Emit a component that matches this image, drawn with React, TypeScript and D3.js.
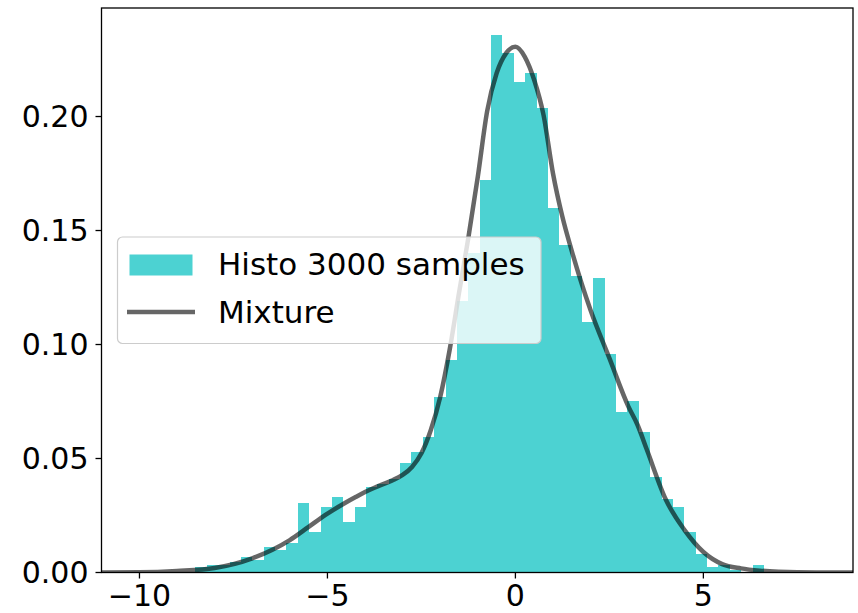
import React from "react";
import * as d3 from "d3";

// Histogram: 50 bins, density values
const binStart = -8.51;
const binWidth = 0.3024;
const densities = [
  0.0022, 0.0033, 0.0033, 0.0044, 0.0066, 0.0055, 0.011, 0.0099, 0.013, 0.0306,
  0.0179, 0.0289, 0.0333, 0.0223, 0.0289, 0.0376, 0.039, 0.041, 0.048, 0.053,
  0.0596, 0.077, 0.093, 0.119, 0.14, 0.172, 0.2357, 0.228, 0.215, 0.219,
  0.2037, 0.16, 0.1436, 0.13, 0.11, 0.129, 0.0958, 0.0705, 0.0754, 0.0618,
  0.042, 0.0322, 0.0289, 0.0178, 0.0081, 0.0024, 0.0033, 0.0011, 0.0, 0.0033,
];

// Mixture density curve
const curveX = [
  -11, -10, -9, -8, -7, -6, -5.5, -5, -4.5, -4.25, -4, -3.75, -3.5, -3.25, -3, -2.75,
  -2.5, -2.25, -2, -1.75, -1.5, -1.25, -1, -0.75, -0.5, -0.25, 0, 0.25, 0.5, 0.75,
  1, 1.25, 1.5, 2, 2.5, 3, 3.25, 3.5, 4, 4.5, 5, 5.5, 6, 6.5, 7, 8, 9,
];
const curveY = [
  0.0, 0.0001, 0.0007, 0.002, 0.0062, 0.0142, 0.02, 0.0258, 0.0308, 0.0331, 0.0353,
  0.0372, 0.0389, 0.0406, 0.0428, 0.0463, 0.0523, 0.0625, 0.077, 0.0976, 0.1226,
  0.147, 0.1736, 0.2025, 0.219, 0.2277, 0.2306, 0.2262, 0.216, 0.2005, 0.175, 0.156,
  0.141, 0.115, 0.094, 0.073, 0.0647, 0.0537, 0.032, 0.0186, 0.009, 0.0037, 0.0018,
  0.0008, 0.0003, 0.0, 0.0,
];

const xTicks = [-10, -5, 0, 5];
const yTicks = [0, 0.05, 0.1, 0.15, 0.2];
const legendLabels = ["Histo 3000 samples", "Mixture"];

const W = 858;
const H = 613;
const left = 101.5;
const right = 853;
const top = 8;
const bottom = 572.5;
const FONT = "DejaVu Sans, sans-serif";
const barColor = "#00bfbf";

export default function App() {
  const x = d3.scaleLinear().domain([-11.01, 8.98]).range([left, right]);
  const y = d3.scaleLinear().domain([0, 0.2476]).range([bottom, top]);

  const line = d3
    .line<number>()
    .x((_, i) => x(curveX[i]))
    .y((d) => y(d))
    .curve(d3.curveMonotoneX);

  const fmtY = (v: number) => v.toFixed(2);
  const fmtX = (v: number) => (v < 0 ? "\u2212" + Math.abs(v) : String(v));

  return (
    <svg
      width={W}
      height={H}
      style={{ position: "absolute", left: 0, top: 0, background: "#fff" }}
    >
      <defs>
        <clipPath id="plot">
          <rect x={left} y={top} width={right - left} height={bottom - top} />
        </clipPath>
      </defs>
      <g clipPath="url(#plot)">
        {densities.map((d, i) => {
          const x0 = x(binStart + i * binWidth);
          const x1 = x(binStart + (i + 1) * binWidth);
          return (
            <rect
              key={i}
              x={x0}
              y={y(d)}
              width={x1 - x0}
              height={bottom - y(d)}
              fill={barColor}
              fillOpacity={0.7}
              shapeRendering="crispEdges"
            />
          );
        })}
        <path
          d={line(curveY) || ""}
          fill="none"
          stroke="#000"
          strokeOpacity={0.6}
          strokeWidth={4.5}
        />
      </g>
      {/* frame */}
      <rect
        x={left}
        y={top}
        width={right - left}
        height={bottom - top}
        fill="none"
        stroke="#000"
        strokeWidth={1.3}
      />
      {/* x ticks */}
      {xTicks.map((t) => (
        <g key={"x" + t} transform={`translate(${x(t)},${bottom})`}>
          <line y1={0} y2={6} stroke="#000" strokeWidth={1.3} />
          <text
            y={33}
            textAnchor="middle"
            fontFamily={FONT}
            fontSize={30}
            fill="#000"
          >
            {fmtX(t)}
          </text>
        </g>
      ))}
      {/* y ticks */}
      {yTicks.map((t) => (
        <g key={"y" + t} transform={`translate(${left},${y(t)})`}>
          <line x1={0} x2={-6} stroke="#000" strokeWidth={1.3} />
          <text
            x={-13}
            dy="0.36em"
            textAnchor="end"
            fontFamily={FONT}
            fontSize={30}
            fill="#000"
          >
            {fmtY(t)}
          </text>
        </g>
      ))}
      {/* legend */}
      <g>
        <rect
          x={117.5}
          y={237}
          width={423.5}
          height={106.5}
          rx={5}
          fill="#fff"
          fillOpacity={0.8}
          stroke="#cccccc"
          strokeWidth={1.2}
        />
        <rect
          x={129.5}
          y={254.5}
          width={63}
          height={21}
          fill={barColor}
          fillOpacity={0.7}
        />
        <line
          x1={127}
          x2={195}
          y1={312}
          y2={312}
          stroke="#000"
          strokeOpacity={0.6}
          strokeWidth={4.5}
        />
        <text x={218} y={275} fontFamily={FONT} fontSize={31} fill="#000">
          {legendLabels[0]}
        </text>
        <text x={218} y={323} fontFamily={FONT} fontSize={31} fill="#000">
          {legendLabels[1]}
        </text>
      </g>
    </svg>
  );
}
